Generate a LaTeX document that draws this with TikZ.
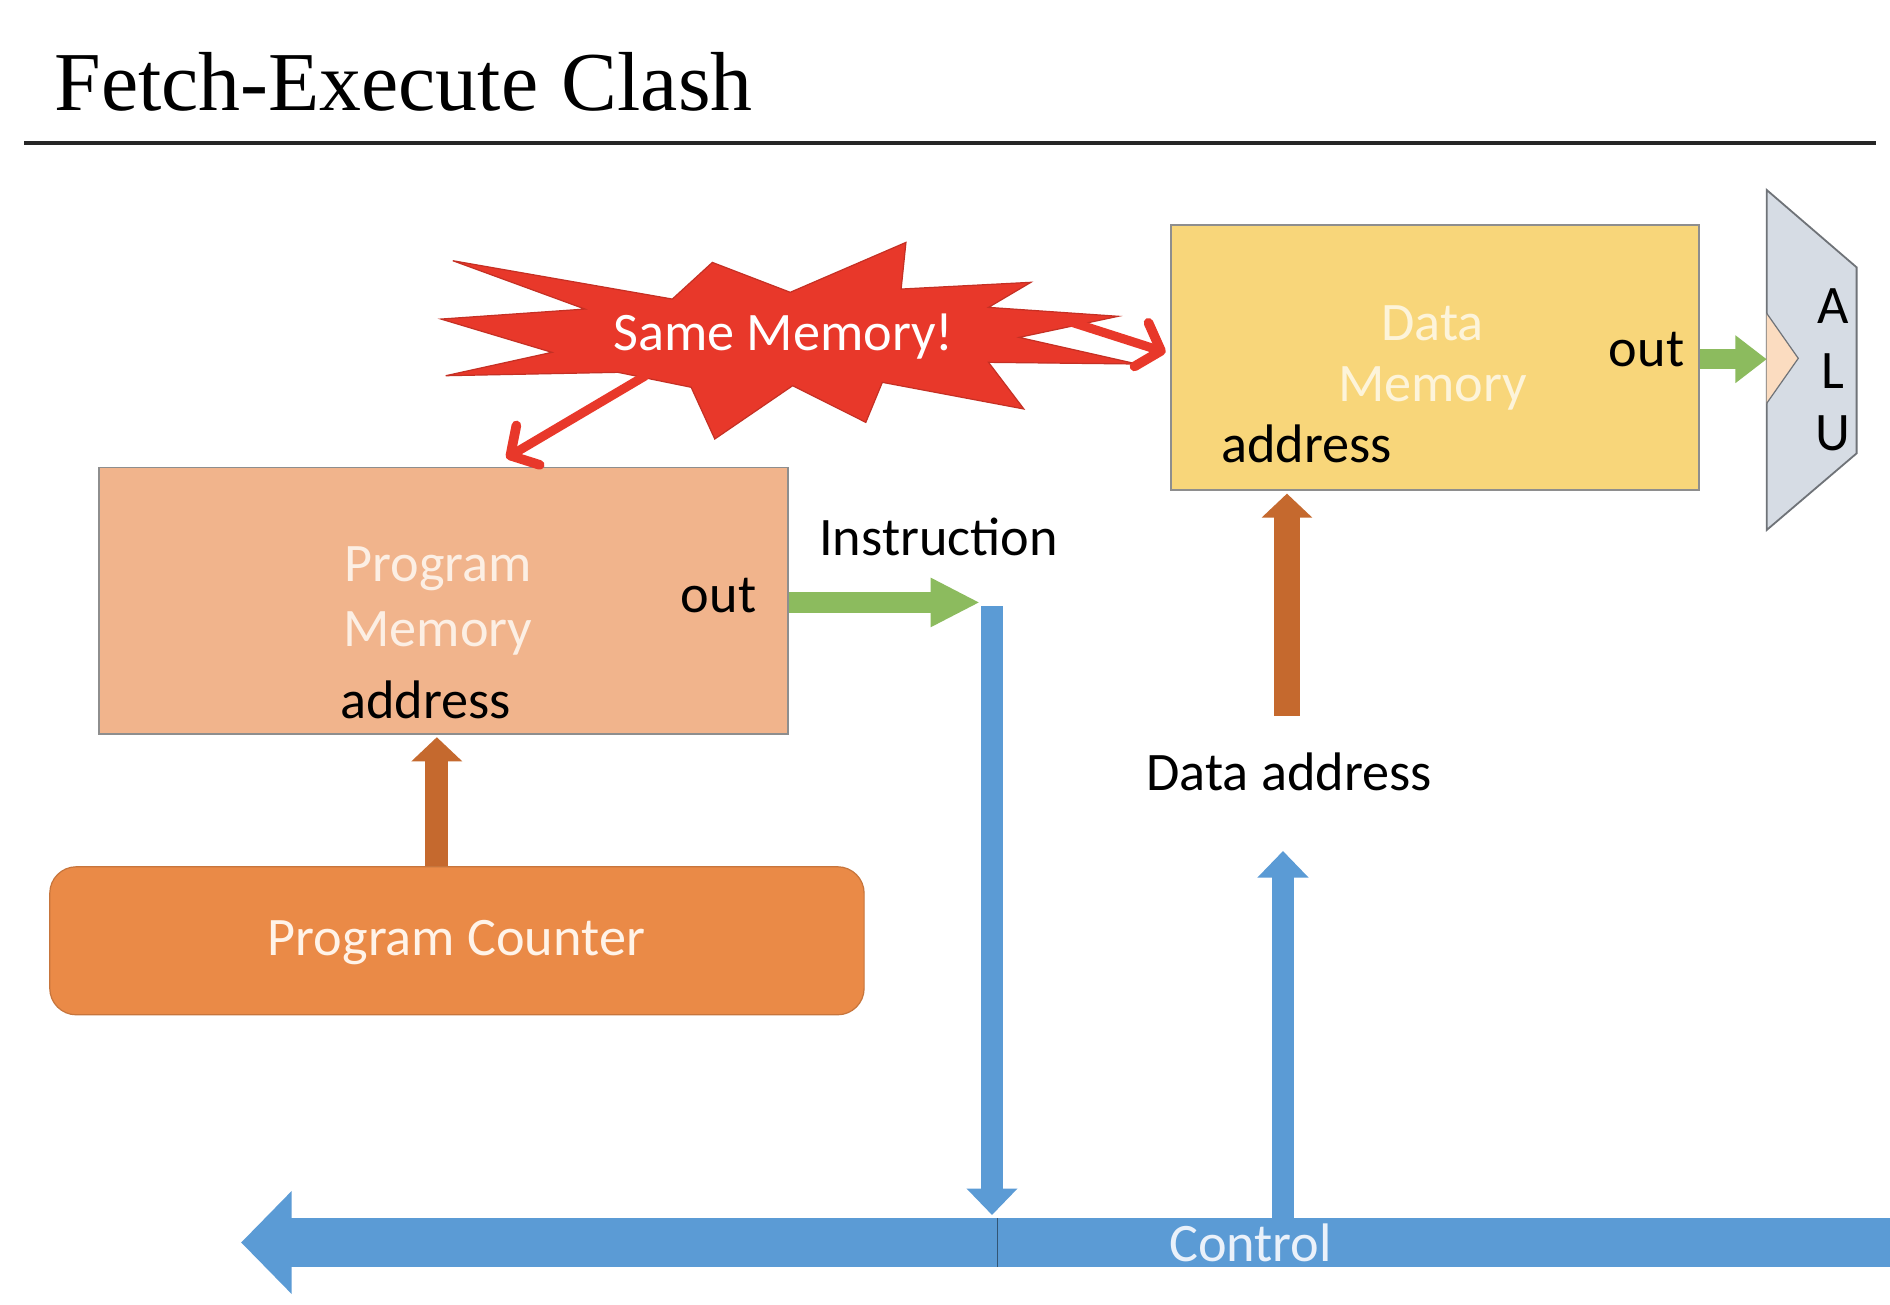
\documentclass[tikz,border=0pt]{standalone}
\usepackage{fontspec}
\setmainfont{Carlito}
\newfontfamily\titlefont{Liberation Serif}
\usetikzlibrary{arrows.meta}
\definecolor{pmfill}{HTML}{F1B48C}
\definecolor{pmtext}{HTML}{FCEFE4}
\definecolor{dmfill}{HTML}{F8D67A}
\definecolor{dmtext}{HTML}{FDF4DA}
\definecolor{pcfill}{HTML}{EA8A47}
\definecolor{pctext}{HTML}{FFF3E8}
\definecolor{boxgray}{HTML}{8E8E8E}
\definecolor{brownarr}{HTML}{C5692E}
\definecolor{greenarr}{HTML}{8CBB5E}
\definecolor{bluearr}{HTML}{5B9BD5}
\definecolor{ctrltext}{HTML}{EAF1FA}
\definecolor{alufill}{HTML}{D6DCE4}
\definecolor{alugray}{HTML}{6F7378}
\definecolor{peach}{HTML}{FBDCC0}
\definecolor{starred}{HTML}{E8382A}
\begin{document}
\begin{tikzpicture}[x=1pt,y=-1pt,
  lbl/.style={inner sep=0pt, font=\fontsize{45}{54}\selectfont},
  memorybox/.style={draw=boxgray, line width=1.5pt, inner sep=0pt, anchor=north west},
  greenarrow/.style={draw=greenarr, line width=17pt, -{Triangle[width=38pt,length=41pt]}},
  greenarrowshort/.style={draw=greenarr, line width=17pt, -{Triangle[width=38pt,length=26pt]}},
  brownarrow/.style={draw=brownarr, line width=20pt, -{Triangle[width=41pt,length=20pt]}},
  bluearrow/.style={draw=bluearr, line width=19pt, -{Triangle[width=41pt,length=22pt]}},
  redarrow/.style={draw=starred, line width=7.5pt, line cap=round,
    -{Straight Barb[length=17pt,width=38pt,line width=8pt,round]}}
]
\useasboundingbox (0,0) rectangle (1568,1082);
\fill[white] (0,0) rectangle (1568,1082);

% title
\node[anchor=base west, inner sep=0pt, font=\titlefont\fontsize{69.5}{80}\selectfont] (title) at (45,91.5) {Fetch-Execute\hspace{0.28em}Clash};
\coordinate (ruleL) at (20,119);
\coordinate (ruleR) at (1556,119);
\draw[line width=3.4pt, black!85] (ruleL) -- (ruleR);

% starburst
\fill[starred, draw=starred!85!black, line width=1pt]
  (375.7,216.3) -- (557.8,248.1) -- (591.0,217.7) -- (655.6,242.5) -- (751.6,201.1)
  -- (747.6,239.8) -- (855.3,234.2) -- (820.1,255.0) -- (927.7,262.4) -- (845.5,279.9)
  -- (943.4,302.0) -- (820.1,300.6) -- (849.4,339.3) -- (732.0,317.2) -- (718.3,350.4)
  -- (657.6,320.0) -- (593.0,364.2) -- (573.4,321.3) -- (512.7,308.9) -- (369.8,311.7)
  -- (457.9,292.3) -- (365.9,264.7) -- (485.3,256.4) -- cycle;
\node[lbl, anchor=base, text=white] (same) at (650,291) {Same Memory!};

% program memory
\node[memorybox, fill=pmfill, minimum width=571.5pt, minimum height=221pt] (pm) at (81.5,387.1) {};
\node[lbl, anchor=base, text=pmtext] (pmname1) at (363.4,482.3) {Program};
\node[lbl, anchor=base, text=pmtext] (pmname2) at (363.4,536) {Memory};
\node[lbl, anchor=base east] (pmout) at (627.6,508.4) {out};
\node[lbl, anchor=base west] (pmaddr) at (282,595.8) {address};

% data memory
\node[memorybox, fill=dmfill, minimum width=438.5pt, minimum height=220.4pt] (dm) at (970.4,185.6) {};
\node[lbl, anchor=base, text=dmtext] (dmname1) at (1188.5,282.4) {Data};
\node[lbl, anchor=base, text=dmtext] (dmname2) at (1188.5,333.3) {Memory};
\node[lbl, anchor=base east] (dmout) at (1397.5,303.7) {out};
\node[lbl, anchor=base west] (dmaddr) at (1013,384) {address};

% ALU
\draw[fill=alufill, draw=alugray, line width=1.5pt]
  (1465.7,157.6) -- (1540.3,221.8) -- (1540.3,376.1) -- (1465.7,439.7) -- cycle;
\fill[peach] (1465.7,259.9) -- (1491.9,297.3) -- (1465.7,334.6) -- cycle;
\draw[alugray, line width=1pt] (1465.7,259.9) -- (1491.9,297.3) -- (1465.7,334.6);
\node[lbl, anchor=base] (aluA) at (1521,268) {A};
\node[lbl, anchor=base] (aluL) at (1521,322) {L};
\node[lbl, anchor=base] (aluU) at (1521,374) {U};
\coordinate (aluin) at (1465.7,298);

% program counter
\node[anchor=north west, fill=pcfill, draw=pcfill!85!black, line width=1pt, rounded corners=22pt,
      minimum width=675.6pt, minimum height=122.8pt, inner sep=0pt] (pc) at (40.8,718.6) {};
\node[lbl, anchor=base, text=pctext] (pcname) at (378.6,792.3) {Program Counter};

% labels
\node[lbl, anchor=base west] (instr) at (679.5,460.8) {Instruction};
\node[lbl, anchor=base west] (daddr) at (951,656) {Data address};

% connector coordinates
\coordinate (pcx) at (362.4,0);
\coordinate (instrtip) at (813,499.8);
\coordinate (ibtop) at (823,503);
\coordinate (ibbot) at (823,1008);
\coordinate (dax) at (1067.7,0);
\coordinate (dastart) at (1067.7,594);
\coordinate (cubot) at (1064.4,1010.7);
\coordinate (cutop) at (1064.4,706);
\coordinate (ctrlR) at (1568,1030.8);
\coordinate (ctrlL) at (200,1030.8);
\coordinate (redA) at (535,312);
\coordinate (redAtip) at (420,380);
\coordinate (redB) at (885,266);
\coordinate (redBtip) at (967,292.3);

% arrows
\draw[brownarrow, line width=19pt] (pc.north -| pcx) -- ([yshift=-2pt]pm.south -| pcx);
\draw[brownarrow, line width=21pt] (dastart) -- ([yshift=-2pt]dm.south -| dax);
\draw[greenarrow] (pm.east |- instrtip) -- (instrtip);
\draw[greenarrowshort] (dm.east |- aluin) -- (aluin);
\draw[bluearrow] (ibtop) -- (ibbot);
\draw[bluearrow, line width=18pt] (cubot) -- (cutop);
\draw[draw=bluearr, line width=40pt, -{Triangle[width=83pt,length=42pt]}] (ctrlR) -- (ctrlL);
\draw[line width=1pt, bluearr!55!black] (827.4,1010.7) -- (827.4,1050.8);
\node[lbl, anchor=base, text=ctrltext] (ctrl) at (1037.5,1046.7) {Control};
\draw[redarrow] (redA) -- (redAtip);
\draw[redarrow] (redB) -- (redBtip);
\end{tikzpicture}
\end{document}
